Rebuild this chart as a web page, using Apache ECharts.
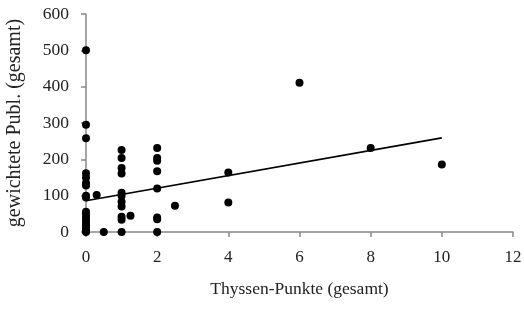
<!DOCTYPE html>
<html>
<head>
<meta charset="utf-8">
<script src="https://cdn.jsdelivr.net/npm/echarts@6/dist/echarts.min.js"></script>
<style>
  html, body { margin: 0; padding: 0; background: #fff; }
  #chart { width: 524px; height: 310px; }
</style>
</head>
<body>
<div id="chart"></div>
<script>
// Thyssen-Punkte (x) und gewichtete Publikationen (y)
const pointsX = [
  0, 0, 0, 0, 0, 0, 0, 0, 0, 0, 0, 0, 0, 0, 0, 0, 0, 0, 0,
  0.3, 0.5,
  1, 1, 1, 1, 1, 1, 1, 1, 1, 1, 1,
  1.25,
  2, 2, 2, 2, 2, 2, 2, 2,
  2.5, 4, 4, 6, 8, 10
];
const pointsY = [
  500, 295, 258, 162, 150, 135, 128, 100, 95, 56, 48, 40, 32, 25, 18, 10, 5, 2, 0,
  102, 0,
  226, 204, 176, 161, 108, 100, 83, 70, 42, 34, 0,
  45,
  231, 204, 196, 167, 120, 40, 35, 0,
  72, 164, 81, 411, 231, 186
];
// lineare Trendlinie
const trendX = [0, 10];
const trendY = [86, 259];

const font = "'Liberation Serif', 'DejaVu Serif', serif";

const chart = echarts.init(document.getElementById("chart"));
chart.setOption({
  animation: false,
  grid: { left: 86, right: 11, top: 14, bottom: 78, outerBoundsMode: "none", containLabel: false },
  xAxis: {
    type: "value",
    min: 0,
    max: 12,
    interval: 2,
    name: "Thyssen-Punkte (gesamt)",
    nameLocation: "middle",
    nameGap: 48,
    nameTextStyle: { color: "#222", fontSize: 17.5, fontFamily: font },
    axisLine: { lineStyle: { color: "#888", width: 1.5 } },
    axisTick: { show: true, length: 5, lineStyle: { color: "#888", width: 1.5 } },
    axisLabel: { color: "#222", fontSize: 17, fontFamily: font, margin: 17 },
    splitLine: { show: false },
  },
  yAxis: {
    type: "value",
    min: 0,
    max: 600,
    interval: 100,
    name: "gewichtete Publ. (gesamt)",
    nameLocation: "middle",
    nameGap: 61,
    nameTextStyle: { color: "#222", fontSize: 20, fontFamily: font },
    axisLine: { show: true, lineStyle: { color: "#888", width: 1.5 } },
    axisTick: { show: true, length: 5, lineStyle: { color: "#888", width: 1.5 } },
    axisLabel: { color: "#222", fontSize: 17.5, fontFamily: font, margin: 17 },
    splitLine: { show: false },
  },
  series: [
    {
      name: "Punkte",
      type: "scatter",
      symbol: "circle",
      symbolSize: 8,
      itemStyle: { color: "#000", opacity: 1 },
      data: pointsX.map((x, i) => [x, pointsY[i]]),
      z: 3,
    },
    {
      name: "Trend",
      type: "line",
      symbol: "none",
      lineStyle: { color: "#000", width: 1.6 },
      data: trendX.map((x, i) => [x, trendY[i]]),
      z: 4,
    },
  ],
});
</script>
</body>
</html>
